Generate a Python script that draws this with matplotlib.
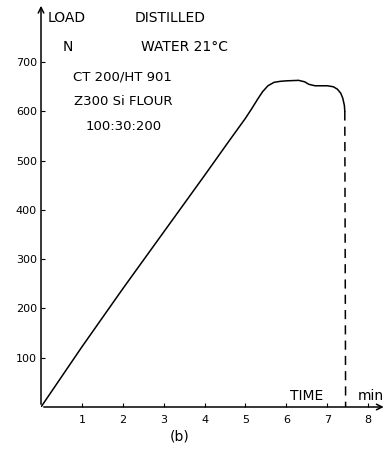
import numpy as np
import matplotlib.pyplot as plt

# load curve (time in min, load in N)
time_solid = [0.0, 1.0, 2.0, 3.0, 4.0, 4.6, 5.0, 5.15, 5.3, 5.42, 5.55, 5.7, 5.85, 6.0, 6.3,
              6.45, 6.55, 6.7, 7.0, 7.15, 7.25, 7.33, 7.38, 7.42, 7.43]
load_solid = [0, 122, 240, 355, 470, 540, 586, 605, 625, 640, 652, 659, 661, 662, 663,
              660, 655, 652, 652, 650, 645, 637, 627, 612, 600]
time_dash = [7.43, 7.45]
load_dash = [600, 0]

x_ticks = [1, 2, 3, 4, 5, 6, 7, 8]
y_ticks = [100, 200, 300, 400, 500, 600, 700]

fig = plt.figure(figsize=(3.88, 4.53), dpi=100)
ax = fig.add_axes([41 / 388, 46 / 453, 345.5 / 388, 404 / 453])
ax.set_xlim(0, 8.45)
ax.set_ylim(0, 820)

ax.plot(time_solid, load_solid, color='black', lw=1.1)
ax.plot(time_dash, load_dash, color='black', lw=1.1, ls=(0, (6, 4)))

for s in ax.spines.values():
    s.set_visible(False)

# axes with arrows
ax.annotate('', xy=(0, 1.0), xytext=(0, 0), xycoords='axes fraction',
            arrowprops=dict(arrowstyle='->', color='black', lw=1.1))
ax.annotate('', xy=(1.0, 0), xytext=(0, 0), xycoords='axes fraction',
            arrowprops=dict(arrowstyle='->', color='black', lw=1.1))

ax.set_xticks(x_ticks)
ax.set_yticks(y_ticks)
ax.tick_params(axis='x', direction='in', length=3, labelsize=8, pad=6)
ax.tick_params(axis='y', direction='in', length=3, labelsize=8, pad=3)

ax.text(0.15, 790, 'LOAD', fontsize=10, ha='left', va='center')
ax.text(0.65, 730, 'N', fontsize=10, ha='center', va='center')
ax.text(2.3, 790, 'DISTILLED', fontsize=10, ha='left', va='center')
ax.text(2.45, 730, 'WATER 21°C', fontsize=10, ha='left', va='center')
ax.text(1.98, 670, 'CT 200/HT 901', fontsize=9.5, ha='center', va='center')
ax.text(2.0, 620, 'Z300 Si FLOUR', fontsize=9.5, ha='center', va='center')
ax.text(2.03, 570, '100:30:200', fontsize=9.5, ha='center', va='center')
ax.text(6.1, 22, 'TIME', fontsize=10, ha='left', va='center')
ax.text(7.75, 22, 'min', fontsize=10, ha='left', va='center')

fig.text(180 / 388, 1 - 436 / 453, '(b)', fontsize=10, ha='center', va='center')

fig.savefig('out.png', dpi=100)
